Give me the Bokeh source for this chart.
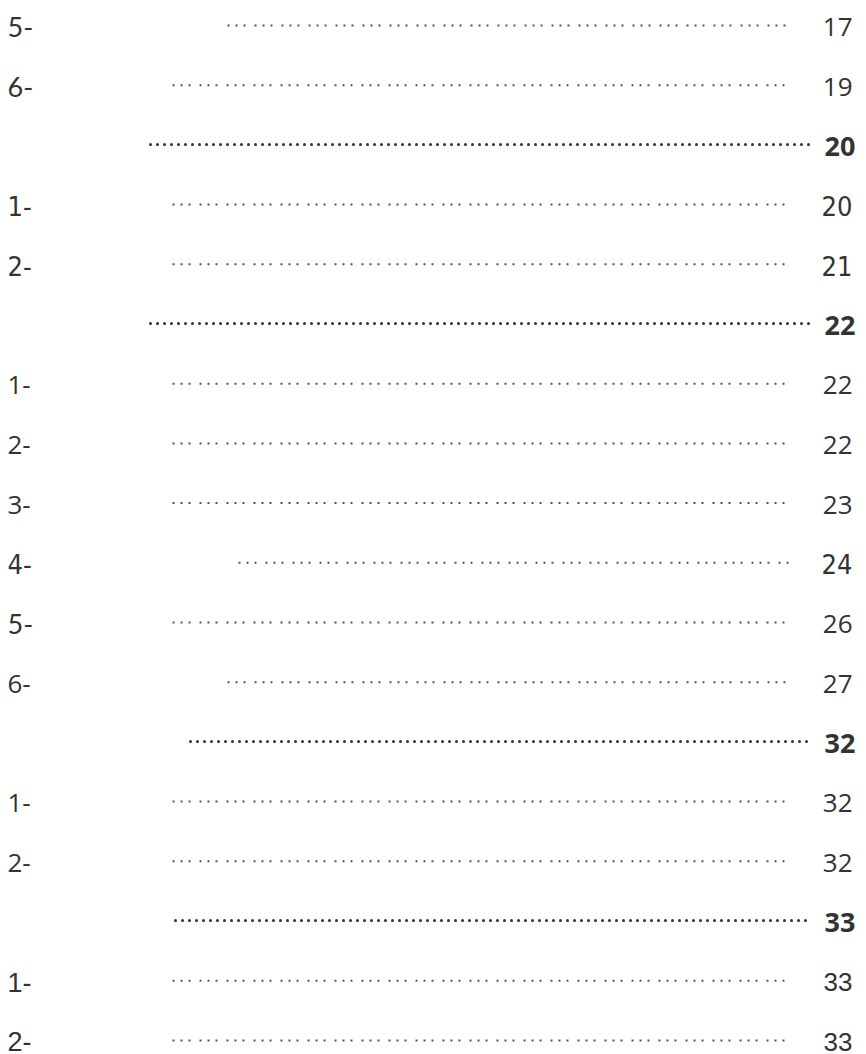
from bokeh.plotting import figure
from bokeh.models import ColumnDataSource, Range1d
from bokeh.embed import file_html
from bokeh.resources import INLINE

# ---- data ----
labels = ["5-", "6-", "", "1-", "2-", "", "1-", "2-", "3-", "4-", "5-", "6-", "", "1-", "2-", "", "1-", "2-"]
pages = ["17", "19", "20", "20", "21", "22", "22", "22", "23", "24", "26", "27", "32", "32", "32", "33", "33", "33"]
is_heading = [False, False, True, False, False, True, False, False, False, False, False, False, True, False, False, True, False, False]
row_style = ["geo", "geo", "head", "narrow", "narrow", "head", "sans", "sans", "sans", "narrow", "geo", "sans", "head", "sans", "sans", "head", "arial", "arial"]

# ---- layout / styles ----
W, H = 866, 1054
leader_start = [227, 172, 150, 172, 172, 150, 172, 172, 172, 238, 172, 227, 190, 172, 172, 175, 172, 172]
fonts = {
    "geo": ("Lato", "normal", "27px", "Open Sans", "normal", "26px"),
    "sans": ("Open Sans", "normal", "26px", "Open Sans", "normal", "26px"),
    "narrow": ("Liberation Sans Narrow, DejaVu Sans Condensed", "normal", "27px",
               "Liberation Sans Narrow, DejaVu Sans Condensed", "normal", "27px"),
    "arial": ("Liberation Sans", "normal", "27px", "Liberation Sans", "normal", "26px"),
    "head": ("Noto Sans", "bold", "27px", "Noto Sans", "bold", "27px"),
}

n = len(labels)
base = [26.5 + 59.7 * i for i in range(n)]

src = ColumnDataSource(dict(
    lx=[7] * n,
    px=[(855 if h else 852) for h in is_heading],
    y=base,
    label=labels,
    page=pages,
    lfont=[fonts[s][0] for s in row_style],
    lstyle=[fonts[s][1] for s in row_style],
    lsize=[fonts[s][2] for s in row_style],
    pfont=[fonts[s][3] for s in row_style],
    pstyle=[fonts[s][4] for s in row_style],
    psize=[fonts[s][5] for s in row_style],
))

p = figure(width=W, height=H, output_backend="svg", toolbar_location=None,
           x_range=Range1d(0, W), y_range=Range1d(H, 0), min_border=0)
p.axis.visible = False
p.grid.visible = False
p.outline_line_color = None
p.background_fill_color = "white"
p.border_fill_color = "white"

p.text(x="lx", y="y", text="label", source=src, text_font="lfont", text_font_style="lstyle",
       text_font_size="lsize", text_color="#333333", text_baseline="alphabetic", text_align="left")
p.text(x="px", y="y", text="page", source=src, text_font="pfont", text_font_style="pstyle",
       text_font_size="psize", text_color="#333333", text_baseline="alphabetic", text_align="right")

norm = [i for i in range(n) if not is_heading[i]]
head = [i for i in range(n) if is_heading[i]]
p.segment(x0=[leader_start[i] for i in norm], x1=[792] * len(norm),
          y0=[base[i] - 1.5 for i in norm], y1=[base[i] - 1.5 for i in norm],
          line_color="#555555", line_width=2, line_dash="2 6 2 6 2 9", line_cap="butt")
p.segment(x0=[leader_start[i] for i in head], x1=[810] * len(head),
          y0=[base[i] - 2 for i in head], y1=[base[i] - 2 for i in head],
          line_color="#333333", line_width=3, line_dash="0 7", line_cap="round")

open("out.html", "w").write(file_html(p, INLINE))
